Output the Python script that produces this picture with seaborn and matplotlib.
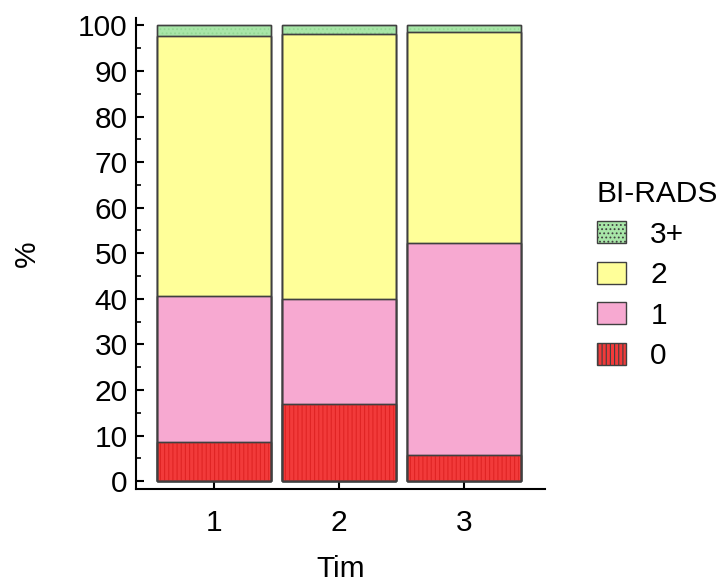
import matplotlib
matplotlib.use("Agg")
import matplotlib.pyplot as plt
from matplotlib.patches import Patch
from matplotlib.ticker import MultipleLocator
import seaborn as sns
import pandas as pd

tim = ["1", "2", "3"]
birads_0 = [8.5, 17.0, 5.7]
birads_1 = [32.2, 23.0, 46.6]
birads_2 = [57.0, 58.0, 46.2]
birads_3p = [2.3, 2.0, 1.5]

categories = ["0", "1", "2", "3+"]
colors = {"0": "#f23a3a", "1": "#f7a9d1", "2": "#ffff99", "3+": "#a8e6a8"}
hatches = {"0": "||||", "1": None, "2": None, "3+": "...."}
hatch_cols = {"0": "#e02424", "1": None, "2": None, "3+": "#94d894"}

df = pd.DataFrame({"Tim": tim, "0": birads_0, "1": birads_1, "2": birads_2, "3+": birads_3p})
# cumulative tops for stacking
cum = df[categories].cumsum(axis=1)
cum["Tim"] = df["Tim"]

sns.set_style("ticks")
plt.rcParams["font.family"] = ["Liberation Sans", "DejaVu Sans"]
plt.rcParams["hatch.linewidth"] = 0.8
plt.rcParams["text.color"] = "black"
plt.rcParams["axes.labelcolor"] = "black"

fs = 21.5

fig = plt.figure(figsize=(7.23, 5.83), dpi=100)
ax = fig.add_axes([0.188, 0.161, 0.566, 0.808])

# draw from the top layer down so lower segments cover upper ones
for cat in reversed(categories):
    sns.barplot(data=cum, x="Tim", y=cat, order=tim, color=colors[cat], saturation=1,
                width=0.91, edgecolor="#404040", linewidth=1.0, ax=ax, errorbar=None)
    if hatches[cat]:
        sns.barplot(data=cum, x="Tim", y=cat, order=tim, fill=False, saturation=1,
                    width=0.88, hatch=hatches[cat], edgecolor=hatch_cols[cat],
                    linewidth=0, ax=ax, errorbar=None)
# redraw outlines on top
for cat in reversed(categories):
    sns.barplot(data=cum, x="Tim", y=cat, order=tim, fill=False, saturation=1,
                width=0.91, edgecolor="#404040", linewidth=1.0, ax=ax, errorbar=None)

ax.set_xlim(-0.624, 2.648)
ax.set_ylim(-1.76, 101.6)
ax.yaxis.set_major_locator(MultipleLocator(10))
ax.yaxis.set_minor_locator(MultipleLocator(5))
ax.tick_params(axis="y", which="major", direction="in", labelsize=fs, length=5.8, width=1.5,
               color="black", labelcolor="black", pad=5.8)
ax.tick_params(axis="y", which="minor", direction="in", length=3.6, width=1.2, color="black")
ax.tick_params(axis="x", which="major", direction="in", labelsize=fs, length=5, width=1.5,
               color="black", labelcolor="black", pad=14)
for s in ["left", "bottom"]:
    ax.spines[s].set_linewidth(1.5)
    ax.spines[s].set_color("black")
sns.despine(ax=ax)

ax.set_xlabel("Tim", fontsize=fs, labelpad=13)
ax.set_ylabel("%", fontsize=fs, labelpad=27)

handles = [Patch(facecolor=colors[c], edgecolor="#404040", hatch=hatches[c], label=c)
           for c in reversed(categories)]
fig.legend(handles=handles, title="BI-RADS", loc="center left", bbox_to_anchor=(0.788, 0.528),
           frameon=False, fontsize=fs, title_fontsize=fs, handlelength=1.0,
           handleheight=0.77, labelspacing=0.42, handletextpad=0.8, alignment="left")

fig.savefig("out.png", dpi=100)
